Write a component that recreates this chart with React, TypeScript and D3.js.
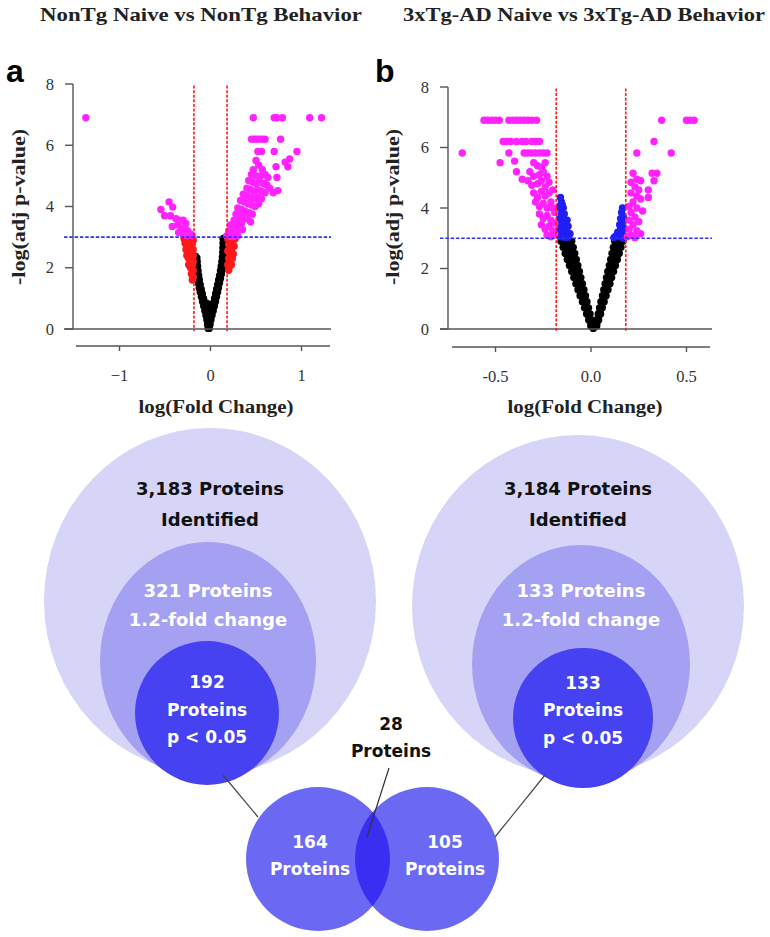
import React from 'react';
import * as d3 from 'd3';

// ---------- text / tick data ----------
const titles = ['NonTg Naive vs NonTg Behavior', '3xTg-AD Naive vs 3xTg-AD Behavior'];
const panelLetters = ['a', 'b'];
const yTicks = [0, 2, 4, 6, 8];
const xTicksA = [-1, 0, 1];
const xTickLabelsA = ['\u22121', '0', '1'];
const xTicksB = [-0.5, 0, 0.5];
const xTickLabelsB = ['-0.5', '0.0', '0.5'];
const foldThreshold = 0.182;
const pThreshold = 3;

type P = [number, number];

// ---------- panel a points (log fold change, -log adj p) ----------
const aBlack: P[] = [
  [-0.025, 0.02], [-0.032, 0.15], [-0.04, 0.3], [-0.05, 0.45], [-0.062, 0.6], [-0.075, 0.75], [-0.088, 0.9],
  [-0.1, 1.05], [-0.112, 1.2], [-0.124, 1.35], [-0.134, 1.5], [-0.142, 1.65], [-0.15, 1.8], [-0.156, 1.95],
  [-0.16, 2.1], [-0.164, 2.25], [-0.166, 2.38],
  [-0.015, 0.1], [-0.022, 0.25], [-0.03, 0.4], [-0.04, 0.55], [-0.052, 0.7], [-0.064, 0.85], [-0.077, 1.0],
  [-0.09, 1.15], [-0.102, 1.3], [-0.113, 1.45], [-0.122, 1.6], [-0.13, 1.75], [-0.137, 1.9], [-0.142, 2.05],
  [-0.146, 2.2], [-0.15, 2.32],
  [-0.015, 0.02], [-0.005, 0.15], [0.005, 0.3], [0.017, 0.45], [0.03, 0.6], [0.043, 0.75], [0.055, 0.9],
  [0.066, 1.05], [0.077, 1.2], [0.088, 1.35], [0.099, 1.5], [0.11, 1.65], [0.12, 1.8], [0.13, 1.95],
  [0.138, 2.1], [0.144, 2.25], [0.148, 2.4], [0.152, 2.55], [0.154, 2.7], [0.155, 2.85], [0.155, 2.97],
  [-0.025, 0.1], [-0.015, 0.25], [-0.005, 0.4], [0.007, 0.55], [0.02, 0.7], [0.033, 0.85], [0.045, 1.0],
  [0.056, 1.15], [0.067, 1.3], [0.078, 1.45], [0.089, 1.6], [0.1, 1.75], [0.11, 1.9], [0.118, 2.05],
  [0.125, 2.2], [0.13, 2.35], [0.134, 2.5], [0.136, 2.65], [0.138, 2.8], [0.138, 2.95],
  [-0.02, 0.35], [-0.01, 0.55], [-0.035, 0.65], [-0.02, 0.8], [0.0, 0.7], [-0.045, 0.85],
];
const aRed: P[] = [
  [-0.29, 2.95], [-0.27, 2.9], [-0.25, 2.95], [-0.23, 2.92], [-0.21, 2.95], [-0.19, 2.9], [-0.28, 2.8],
  [-0.26, 2.75], [-0.24, 2.8], [-0.22, 2.7], [-0.2, 2.78], [-0.27, 2.6], [-0.25, 2.55], [-0.23, 2.6],
  [-0.21, 2.5], [-0.19, 2.6], [-0.26, 2.4], [-0.24, 2.3], [-0.22, 2.35], [-0.2, 2.25], [-0.19, 2.4],
  [-0.24, 2.1], [-0.22, 2.0], [-0.2, 2.1], [-0.19, 1.9], [-0.21, 1.8], [-0.19, 1.7], [-0.2, 1.6], [-0.19, 2.2],
  [0.19, 2.95], [0.21, 2.9], [0.23, 2.95], [0.25, 2.9], [0.27, 2.95], [0.2, 2.75], [0.22, 2.7], [0.24, 2.75],
  [0.26, 2.7], [0.19, 2.55], [0.21, 2.5], [0.23, 2.55], [0.25, 2.45], [0.2, 2.3], [0.22, 2.25], [0.24, 2.3],
  [0.19, 2.1], [0.21, 2.05], [0.23, 2.1], [0.2, 1.92],
];
const aMagenta: P[] = [
  [-1.37, 6.9],
  [-0.545, 3.9], [-0.455, 4.15], [-0.415, 3.98], [-0.505, 3.7], [-0.44, 3.7], [-0.38, 3.6], [-0.34, 3.55],
  [-0.3, 3.55], [-0.36, 3.4], [-0.42, 3.35], [-0.32, 3.3], [-0.28, 3.3], [-0.25, 3.2], [-0.3, 3.1],
  [-0.26, 3.05], [-0.22, 3.1], [-0.2, 3.05], [-0.35, 3.15], [-0.27, 3.45],
  [0.47, 6.9], [0.7, 6.9], [0.73, 6.9], [0.79, 6.9], [1.09, 6.9], [1.22, 6.9],
  [0.45, 6.2], [0.48, 6.2], [0.51, 6.2], [0.54, 6.2], [0.57, 6.2], [0.6, 6.2], [0.77, 6.2],
  [0.52, 5.8], [0.56, 5.8], [0.7, 5.8], [0.95, 5.8],
  [0.87, 5.55], [0.82, 5.45], [0.85, 5.3], [0.72, 5.3], [0.73, 4.95], [0.74, 4.52], [0.69, 4.45],
  [0.5, 5.5], [0.53, 5.35], [0.57, 5.2], [0.47, 5.2], [0.45, 5.05], [0.5, 5.0], [0.55, 5.0], [0.6, 5.05], [0.63, 4.95],
  [0.42, 4.85], [0.46, 4.8], [0.5, 4.75], [0.54, 4.8], [0.58, 4.75], [0.62, 4.7], [0.4, 4.6], [0.44, 4.55],
  [0.48, 4.5], [0.52, 4.55], [0.56, 4.5], [0.6, 4.45], [0.65, 4.6],
  [0.36, 4.4], [0.4, 4.35], [0.44, 4.3], [0.48, 4.25], [0.52, 4.3], [0.56, 4.25], [0.33, 4.2], [0.37, 4.15],
  [0.41, 4.1], [0.45, 4.05], [0.49, 4.0], [0.53, 4.1],
  [0.3, 3.95], [0.34, 3.9], [0.38, 3.85], [0.42, 3.8], [0.46, 3.75], [0.28, 3.75], [0.32, 3.7], [0.36, 3.65],
  [0.4, 3.6], [0.26, 3.55], [0.3, 3.5], [0.34, 3.45], [0.44, 3.5],
  [0.22, 3.4], [0.25, 3.35], [0.28, 3.3], [0.31, 3.25], [0.35, 3.25], [0.2, 3.2], [0.23, 3.15], [0.27, 3.1],
  [0.3, 3.05], [0.18, 3.05], [0.21, 3.02], [0.25, 3.02],
];

// ---------- panel b points ----------
const bBlack: P[] = [
  [-0.001, 0.1], [-0.012, 0.3], [-0.023, 0.5], [-0.034, 0.7], [-0.045, 0.9], [-0.057, 1.1], [-0.068, 1.3],
  [-0.079, 1.5], [-0.09, 1.7], [-0.101, 1.9], [-0.113, 2.1], [-0.124, 2.3], [-0.135, 2.5], [-0.146, 2.7], [-0.157, 2.9],
  [0.0, 0.2], [-0.009, 0.4], [-0.019, 0.6], [-0.028, 0.8], [-0.038, 1.0], [-0.048, 1.2], [-0.057, 1.4],
  [-0.067, 1.6], [-0.076, 1.8], [-0.086, 2.0], [-0.096, 2.2], [-0.105, 2.4], [-0.115, 2.6], [-0.124, 2.8], [-0.133, 2.97],
  [0.003, 0.3], [-0.005, 0.5], [-0.013, 0.7], [-0.021, 0.9], [-0.029, 1.1], [-0.037, 1.3], [-0.045, 1.5],
  [-0.053, 1.7], [-0.061, 1.9], [-0.069, 2.1], [-0.077, 2.3], [-0.085, 2.5], [-0.093, 2.7], [-0.101, 2.9],
  [0.012, 0.02], [0.03, 0.1], [0.04, 0.3], [0.05, 0.5], [0.059, 0.7], [0.069, 0.9], [0.079, 1.1], [0.089, 1.3],
  [0.099, 1.5], [0.108, 1.7], [0.118, 1.9], [0.128, 2.1], [0.138, 2.3], [0.148, 2.5], [0.157, 2.7], [0.167, 2.9],
  [0.031, 0.2], [0.039, 0.4], [0.048, 0.6], [0.056, 0.8], [0.065, 1.0], [0.073, 1.2], [0.082, 1.4], [0.09, 1.6],
  [0.099, 1.8], [0.107, 2.0], [0.116, 2.2], [0.124, 2.4], [0.133, 2.6], [0.141, 2.8], [0.148, 2.97],
  [0.031, 0.3], [0.038, 0.5], [0.045, 0.7], [0.052, 0.9], [0.06, 1.1], [0.067, 1.3], [0.074, 1.5], [0.081, 1.7],
  [0.088, 1.9], [0.096, 2.1], [0.103, 2.3], [0.11, 2.5], [0.117, 2.7], [0.124, 2.9],
];
const bBlue: P[] = [
  [-0.16, 4.35], [-0.155, 4.2], [-0.165, 4.05], [-0.145, 4.0], [-0.16, 3.85], [-0.14, 3.8], [-0.165, 3.65],
  [-0.145, 3.6], [-0.125, 3.6], [-0.16, 3.45], [-0.14, 3.4], [-0.12, 3.4], [-0.165, 3.25], [-0.145, 3.2],
  [-0.125, 3.2], [-0.11, 3.15], [-0.16, 3.05], [-0.14, 3.03], [-0.12, 3.03], [-0.165, 3.9], [-0.15, 4.1],
  [0.165, 4.0], [0.16, 3.85], [0.17, 3.7], [0.155, 3.65], [0.165, 3.5], [0.15, 3.45], [0.17, 3.35], [0.155, 3.3],
  [0.14, 3.2], [0.165, 3.15], [0.13, 3.08], [0.15, 3.05], [0.12, 3.02], [0.17, 3.0],
];
const bMagenta: P[] = [
  [-0.56, 6.9], [-0.54, 6.9], [-0.52, 6.9], [-0.5, 6.9], [-0.48, 6.9], [-0.43, 6.9], [-0.41, 6.9], [-0.39, 6.9],
  [-0.37, 6.9], [-0.35, 6.9], [-0.33, 6.9], [-0.31, 6.9], [-0.285, 6.9],
  [-0.46, 6.2], [-0.44, 6.2], [-0.42, 6.2], [-0.39, 6.2], [-0.36, 6.2], [-0.34, 6.2], [-0.31, 6.2], [-0.29, 6.2], [-0.27, 6.2],
  [-0.674, 5.82], [-0.43, 5.82], [-0.35, 5.82], [-0.33, 5.82], [-0.31, 5.82], [-0.29, 5.82], [-0.27, 5.82], [-0.25, 5.82], [-0.23, 5.82],
  [-0.476, 5.5], [-0.4, 5.55], [-0.39, 5.2], [-0.36, 4.95], [-0.3, 5.5], [-0.28, 5.4], [-0.26, 5.35], [-0.24, 5.5],
  [-0.32, 5.2], [-0.3, 5.05], [-0.27, 5.1], [-0.25, 5.2], [-0.23, 5.05], [-0.33, 4.9], [-0.31, 4.75], [-0.28, 4.8],
  [-0.26, 4.9], [-0.24, 4.7], [-0.22, 4.85], [-0.3, 4.5], [-0.28, 4.35], [-0.26, 4.55], [-0.24, 4.4], [-0.22, 4.5],
  [-0.2, 4.6], [-0.29, 4.2], [-0.27, 4.05], [-0.25, 4.15], [-0.23, 4.0], [-0.21, 4.2], [-0.27, 3.8], [-0.25, 3.65],
  [-0.23, 3.75], [-0.21, 3.6], [-0.19, 3.85], [-0.26, 3.45], [-0.24, 3.3], [-0.22, 3.4], [-0.2, 3.25], [-0.23, 3.1],
  [-0.21, 3.05], [-0.19, 3.15], [-0.19, 3.5], [-0.2, 4.0],
  [0.37, 6.9], [0.5, 6.9], [0.52, 6.9], [0.54, 6.9], [0.33, 6.2], [0.24, 5.82], [0.42, 5.82],
  [0.22, 5.15], [0.32, 5.15], [0.345, 5.15], [0.33, 4.9], [0.3, 4.6], [0.3, 4.35], [0.26, 4.9], [0.24, 4.95], [0.21, 4.85],
  [0.23, 4.7], [0.25, 4.6], [0.21, 4.5], [0.24, 4.4], [0.26, 4.3], [0.22, 4.2], [0.2, 4.05], [0.24, 4.0], [0.27, 3.9],
  [0.21, 3.85], [0.23, 3.7], [0.2, 3.6], [0.25, 3.55], [0.22, 3.45], [0.2, 3.3], [0.24, 3.25], [0.21, 3.1], [0.23, 3.02],
  [0.19, 3.05], [0.26, 3.15],
];

// ---------- nested-circle / venn text ----------
const leftNested = [['3,183 Proteins', 'Identified'], ['321 Proteins', '1.2-fold change'], ['192', 'Proteins', 'p < 0.05']];
const rightNested = [['3,184 Proteins', 'Identified'], ['133 Proteins', '1.2-fold change'], ['133', 'Proteins', 'p < 0.05']];
const vennLabels = [['164', 'Proteins'], ['105', 'Proteins'], ['28', 'Proteins']];

const SERIF = '"Liberation Serif", "Times New Roman", serif';
const SANS = '"DejaVu Sans", Arial, sans-serif';

const COL = {
  magenta: '#ff22ff', red: '#ff1a1a', blue: '#1f1ff5', black: '#000',
  axis: '#555', outer: '#d6d4f7', middle: '#a4a1f2', inner: '#4642f2', venn: '#6b69f4', vennX: '#3b2ef3',
};

type PanelProps = {
  xs: d3.ScaleLinear<number, number>; ys: d3.ScaleLinear<number, number>;
  black: P[]; mid: P[]; midColor: string; magenta: P[];
  xTicks: number[]; xLabels: string[];
  axisX: number; zeroL: number; zeroR: number; xAxL: number; xAxR: number; xAxY: number;
  yLabelX: number; xLabelX: number; title: string; titleX: number; titleW: number;
  letter: string; letterX: number;
};

function Volcano(p: PanelProps) {
  const r = 3.7;
  const y0 = p.ys(0);
  return (
    <g>
      <text x={p.titleX} y={21} textAnchor="middle" fontFamily={SERIF} fontWeight="bold" fontSize={19}
        textLength={p.titleW} lengthAdjust="spacingAndGlyphs" fill="#222">{p.title}</text>
      <text x={p.letterX} y={82} fontFamily="Arial, 'Liberation Sans', sans-serif" fontWeight="bold" fontSize={32} fill="#000">{p.letter}</text>
      {p.black.map((d, i) => <circle key={'k' + i} cx={p.xs(d[0])} cy={p.ys(d[1])} r={r} fill={COL.black} />)}
      {p.mid.map((d, i) => <circle key={'m' + i} cx={p.xs(d[0])} cy={p.ys(d[1])} r={r} fill={p.midColor} />)}
      {p.magenta.map((d, i) => <circle key={'g' + i} cx={p.xs(d[0])} cy={p.ys(d[1])} r={r} fill={COL.magenta} />)}
      <line x1={p.zeroL} x2={p.zeroR} y1={y0} y2={y0} stroke={COL.axis} strokeWidth={1.4} />
      <line x1={p.axisX} x2={p.axisX} y1={p.ys(8)} y2={p.ys(0)} stroke={COL.axis} strokeWidth={1.4} />
      {yTicks.map(t => (
        <g key={'yt' + t}>
          <line x1={p.axisX - 8} x2={p.axisX} y1={p.ys(t)} y2={p.ys(t)} stroke={COL.axis} strokeWidth={1.4} />
          <text x={p.axisX - 19} y={p.ys(t) + 5.5} textAnchor="end" fontFamily={SERIF} fontSize={16.5} fill="#333">{t}</text>
        </g>
      ))}
      <line x1={p.xAxL} x2={p.xAxR} y1={p.xAxY} y2={p.xAxY} stroke={COL.axis} strokeWidth={1.4} />
      {p.xTicks.map((t, i) => (
        <g key={'xt' + t}>
          <line x1={p.xs(t)} x2={p.xs(t)} y1={p.xAxY} y2={p.xAxY + 5} stroke={COL.axis} strokeWidth={1.4} />
          <text x={p.xs(t)} y={p.xAxY + 35} textAnchor="middle" fontFamily={SERIF} fontSize={16.5} fill="#333">{p.xLabels[i]}</text>
        </g>
      ))}
      {[-foldThreshold, foldThreshold].map(t => (
        <line key={'v' + t} x1={p.xs(t)} x2={p.xs(t)} y1={p.ys(7.95)} y2={p.ys(-0.07)} stroke={COL.red}
          strokeWidth={1.6} strokeDasharray="3,1.6" />
      ))}
      <line x1={p.zeroL} x2={p.zeroR} y1={p.ys(pThreshold)} y2={p.ys(pThreshold)} stroke="#3030ff"
        strokeWidth={1.6} strokeDasharray="3.5,1.8" />
      <text transform={`translate(${p.yLabelX},207) rotate(-90)`} textAnchor="middle" fontFamily={SERIF}
        fontWeight="bold" fontSize={18} textLength={156} lengthAdjust="spacingAndGlyphs" fill="#222">-log(adj p-value)</text>
      <text x={p.xLabelX} y={413} textAnchor="middle" fontFamily={SERIF} fontWeight="bold" fontSize={18}
        textLength={155} lengthAdjust="spacingAndGlyphs" fill="#222">log(Fold Change)</text>
    </g>
  );
}

type Ell = { cx: number; cy: number; rx: number; ry: number };

function Nested({ shapes, labels, lineY }: { shapes: Ell[]; labels: string[][]; lineY: number[][] }) {
  const fills = [COL.outer, COL.middle, COL.inner];
  const colors = ['#111', '#fff', '#fff'];
  return (
    <g>
      {shapes.map((s, i) => <ellipse key={i} cx={s.cx} cy={s.cy} rx={s.rx} ry={s.ry} fill={fills[i]} />)}
      {labels.map((lines, i) => lines.map((t, j) => (
        <text key={i + '-' + j} x={shapes[i].cx} y={lineY[i][j]} textAnchor="middle" fontFamily={SANS}
          fontWeight="bold" fontSize={i === 2 ? 17 : 18} fill={colors[i]}>{t}</text>
      )))}
    </g>
  );
}

export default function App() {
  const ysA = d3.scaleLinear().domain([0, 8]).range([329, 84]);
  const xsA = d3.scaleLinear().domain([-1, 1]).range([119.5, 301.5]);
  const ysB = d3.scaleLinear().domain([0, 8]).range([329, 87]);
  const xsB = d3.scaleLinear().domain([-0.5, 0.5]).range([495.5, 686.5]);

  const leftShapes: Ell[] = [
    { cx: 210, cy: 601, rx: 166, ry: 173 },
    { cx: 208, cy: 661, rx: 108, ry: 119 },
    { cx: 207, cy: 713, rx: 72, ry: 72 },
  ];
  const rightShapes: Ell[] = [
    { cx: 578, cy: 606, rx: 166, ry: 171 },
    { cx: 581, cy: 664, rx: 109, ry: 119 },
    { cx: 583, cy: 718, rx: 70, ry: 70 },
  ];
  const venn = { lx: 318, rx: 427, cy: 859, r: 72 };

  return (
    <svg width={770} height={937} style={{ position: 'absolute', left: 0, top: 0, background: '#fff' }}>
      <rect x={0} y={0} width={770} height={937} fill="#fff" />
      <Volcano xs={xsA} ys={ysA} black={aBlack} mid={aRed} midColor={COL.red} magenta={aMagenta}
        xTicks={xTicksA} xLabels={xTickLabelsA} axisX={73} zeroL={64} zeroR={331} xAxL={76} xAxR={330} xAxY={346}
        yLabelX={25} xLabelX={216} title={titles[0]} titleX={201} titleW={322} letter={panelLetters[0]} letterX={6} />
      <Volcano xs={xsB} ys={ysB} black={bBlack} mid={bBlue} midColor={COL.blue} magenta={bMagenta}
        xTicks={xTicksB} xLabels={xTickLabelsB} axisX={448} zeroL={440} zeroR={712} xAxL={452} xAxR={710} xAxY={347}
        yLabelX={399} xLabelX={585} title={titles[1]} titleX={584} titleW={362} letter={panelLetters[1]} letterX={375} />

      <Nested shapes={leftShapes} labels={leftNested} lineY={[[495, 526], [597, 626], [688, 716, 743]]} />
      <Nested shapes={rightShapes} labels={rightNested} lineY={[[495, 526], [597, 626], [689, 716, 744]]} />

      <defs>
        <clipPath id="vennClip"><circle cx={venn.lx} cy={venn.cy} r={venn.r} /></clipPath>
      </defs>
      <circle cx={venn.lx} cy={venn.cy} r={venn.r} fill={COL.venn} />
      <circle cx={venn.rx} cy={venn.cy} r={venn.r} fill={COL.venn} />
      <circle cx={venn.rx} cy={venn.cy} r={venn.r} fill={COL.vennX} clipPath="url(#vennClip)" />

      <line x1={223} y1={775} x2={258} y2={817} stroke="#444" strokeWidth={1.2} />
      <line x1={545} y1={775} x2={495} y2={837} stroke="#444" strokeWidth={1.2} />
      <line x1={389} y1={768} x2={367} y2={837} stroke="#333" strokeWidth={1.2} />

      {vennLabels[0].map((t, j) => (
        <text key={'v0' + j} x={310} y={848 + j * 27} textAnchor="middle" fontFamily={SANS} fontWeight="bold" fontSize={17} fill="#fff">{t}</text>
      ))}
      {vennLabels[1].map((t, j) => (
        <text key={'v1' + j} x={445} y={848 + j * 27} textAnchor="middle" fontFamily={SANS} fontWeight="bold" fontSize={17} fill="#fff">{t}</text>
      ))}
      {vennLabels[2].map((t, j) => (
        <text key={'v2' + j} x={391} y={730 + j * 27} textAnchor="middle" fontFamily={SANS} fontWeight="bold" fontSize={17} fill="#111">{t}</text>
      ))}
    </svg>
  );
}
